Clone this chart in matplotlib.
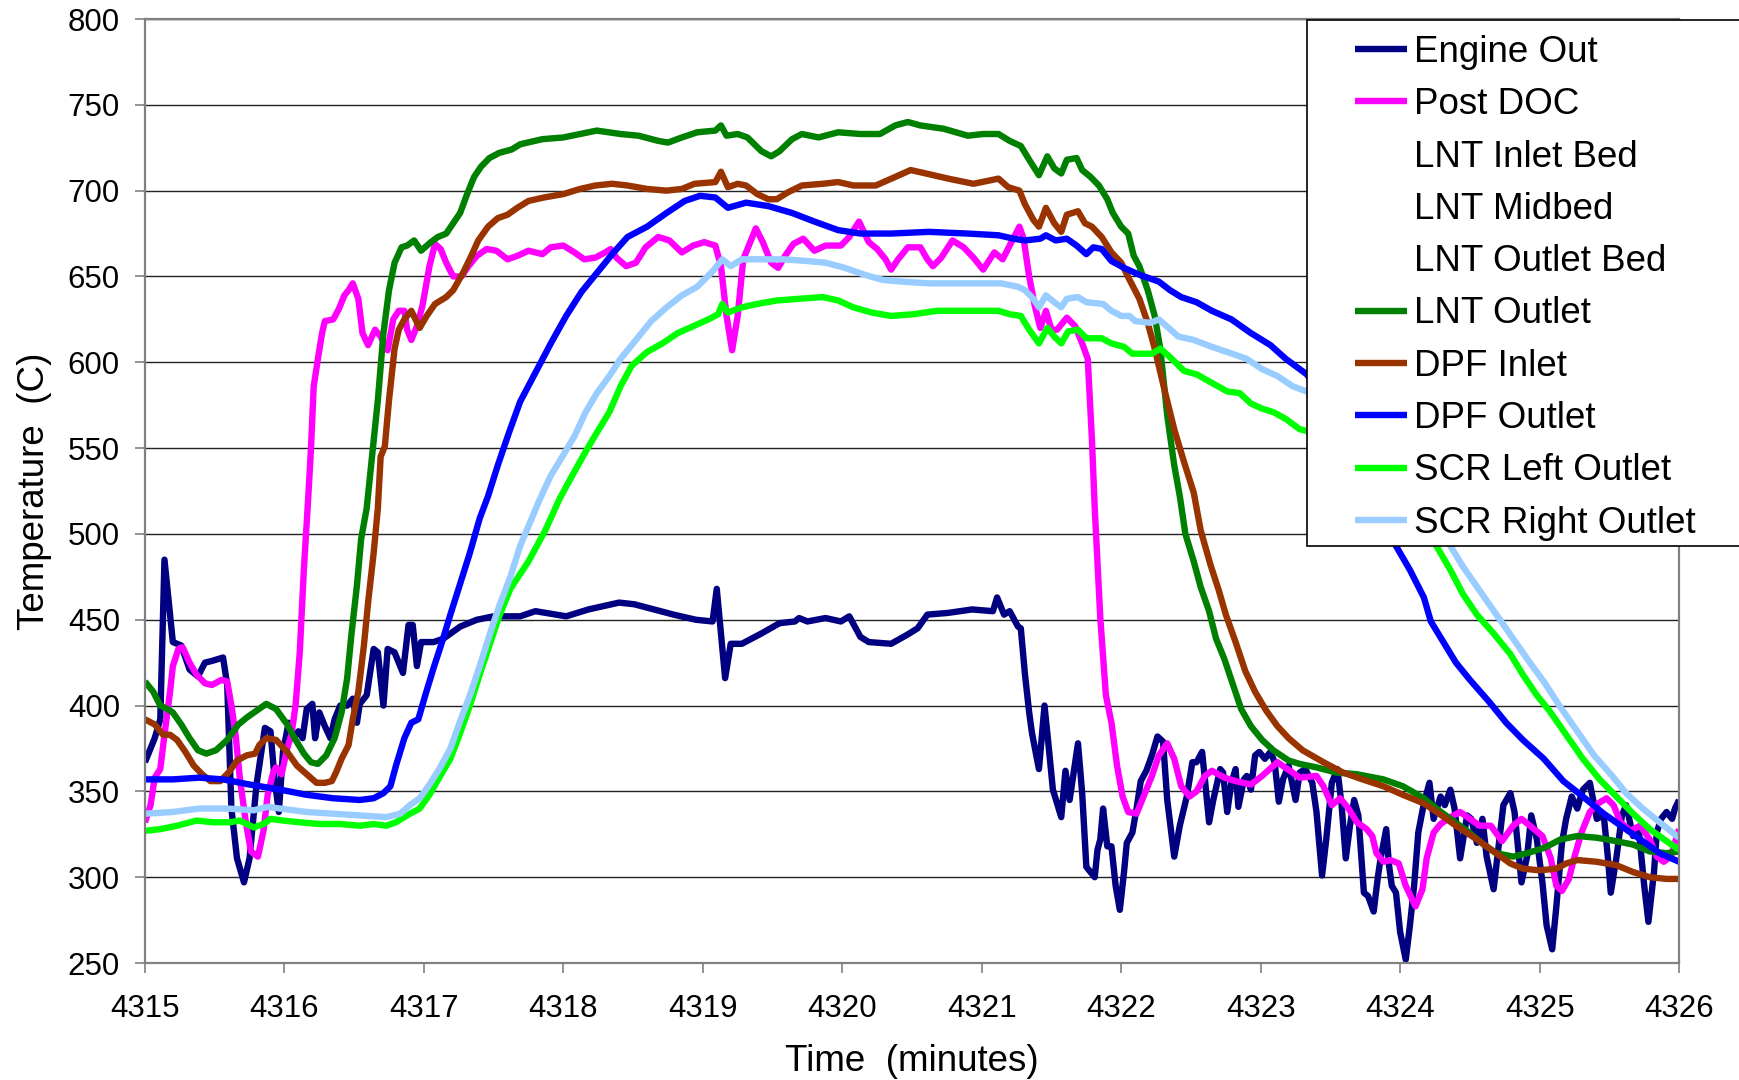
import matplotlib
matplotlib.use("Agg")
import matplotlib.pyplot as plt
from matplotlib.patches import Rectangle

plt.rcParams['font.family'] = ['Liberation Sans', 'DejaVu Sans']

# ---- data (time in minutes, temperature in C) ----
eng_t = [4315.00, 4315.07, 4315.11, 4315.14, 4315.18, 4315.20, 4315.26, 4315.32, 4315.38, 4315.43,
         4315.48, 4315.56, 4315.59, 4315.62, 4315.66, 4315.71, 4315.75, 4315.80, 4315.86, 4315.90,
         4315.93, 4315.96, 4315.99, 4316.03, 4316.06, 4316.10, 4316.13, 4316.16, 4316.20, 4316.22,
         4316.25, 4316.29, 4316.33, 4316.36, 4316.40, 4316.45, 4316.49, 4316.52, 4316.54, 4316.59,
         4316.64, 4316.67, 4316.71, 4316.74, 4316.79, 4316.85, 4316.89, 4316.92, 4316.95, 4316.98,
         4317.07, 4317.14, 4317.26, 4317.38, 4317.50, 4317.69, 4317.80, 4318.02, 4318.18, 4318.40,
         4318.51, 4318.79, 4318.95, 4319.07, 4319.10, 4319.16, 4319.20, 4319.28, 4319.42, 4319.55,
         4319.66, 4319.69, 4319.75, 4319.88, 4319.99, 4320.05, 4320.13, 4320.19, 4320.35, 4320.46,
         4320.54, 4320.61, 4320.76, 4320.93, 4321.08, 4321.11, 4321.16, 4321.20, 4321.26, 4321.28,
         4321.31, 4321.34, 4321.36, 4321.41, 4321.45, 4321.48, 4321.51, 4321.57, 4321.60, 4321.63,
         4321.69, 4321.72, 4321.75, 4321.81, 4321.83, 4321.85, 4321.87, 4321.90, 4321.93, 4321.96,
         4321.99, 4322.02, 4322.04, 4322.08, 4322.11, 4322.14, 4322.18, 4322.22, 4322.26, 4322.30,
         4322.33, 4322.38, 4322.42, 4322.47, 4322.51, 4322.54, 4322.58, 4322.60, 4322.63, 4322.66,
         4322.71, 4322.73, 4322.76, 4322.79, 4322.82, 4322.84, 4322.88, 4322.90, 4322.93, 4322.96,
         4322.99, 4323.03, 4323.07, 4323.10, 4323.13, 4323.16, 4323.20, 4323.25, 4323.28, 4323.32,
         4323.37, 4323.40, 4323.44, 4323.47, 4323.51, 4323.55, 4323.58, 4323.61, 4323.64, 4323.67,
         4323.70, 4323.74, 4323.77, 4323.81, 4323.84, 4323.86, 4323.90, 4323.92, 4323.94, 4323.97,
         4324.00, 4324.04, 4324.07, 4324.10, 4324.13, 4324.17, 4324.21, 4324.24, 4324.29, 4324.32,
         4324.36, 4324.39, 4324.43, 4324.48, 4324.51, 4324.55, 4324.59, 4324.62, 4324.67, 4324.70,
         4324.74, 4324.79, 4324.82, 4324.87, 4324.91, 4324.94, 4324.98, 4325.02, 4325.05, 4325.09,
         4325.12, 4325.16, 4325.19, 4325.23, 4325.27, 4325.31, 4325.36, 4325.41, 4325.46, 4325.49,
         4325.51, 4325.55, 4325.59, 4325.62, 4325.67, 4325.71, 4325.75, 4325.78, 4325.82, 4325.84,
         4325.87, 4325.91, 4325.95, 4325.97, 4326.00]
eng_T = [367, 381, 392, 485, 453, 437, 435, 421, 417, 425,
         426, 428, 412, 340, 311, 297, 311, 354, 387, 385,
         357, 338, 373, 390, 381, 385, 381, 398, 401, 381,
         396, 388, 381, 392, 400, 400, 404, 390, 401, 406,
         433, 431, 400, 433, 431, 419, 447, 447, 423, 437,
         437, 439, 446, 450, 452, 452, 455, 452, 456, 460,
         459, 453, 450, 449, 468, 416, 436, 436, 442, 448,
         449, 451, 449, 451, 449, 452, 440, 437, 436, 441,
         445, 453, 454, 456, 455, 463, 453, 455, 446, 445,
         418, 396, 384, 363, 400, 376, 351, 335, 362, 345,
         378, 349, 306, 300, 316, 322, 340, 318, 318, 295,
         281, 303, 320, 326, 340, 356, 362, 371, 382, 379,
         345, 312, 330, 347, 367, 367, 373, 357, 332, 345,
         363, 361, 338, 355, 363, 341, 357, 359, 351, 371,
         373, 369, 373, 367, 344, 357, 365, 345, 361, 363,
         355, 338, 301, 322, 355, 363, 342, 311, 330, 345,
         336, 291, 289, 280, 300, 311, 328, 307, 295, 291,
         268, 252, 272, 295, 326, 343, 355, 334, 347, 342,
         351, 340, 311, 336, 334, 320, 334, 312, 293, 314,
         342, 349, 338, 297, 312, 336, 322, 297, 272, 258,
         283, 320, 334, 347, 340, 351, 355, 334, 336, 311,
         291, 311, 336, 342, 324, 328, 295, 274, 303, 326,
         334, 338, 334, 340, 345]

doc_t = [4315.00, 4315.04, 4315.07, 4315.11, 4315.14, 4315.18, 4315.20, 4315.24, 4315.27, 4315.32,
         4315.37, 4315.43, 4315.48, 4315.55, 4315.59, 4315.62, 4315.65, 4315.68, 4315.72, 4315.76,
         4315.81, 4315.85, 4315.88, 4315.92, 4315.94, 4315.98, 4316.02, 4316.05, 4316.08, 4316.11,
         4316.14, 4316.17, 4316.19, 4316.21, 4316.24, 4316.27, 4316.29, 4316.35, 4316.39, 4316.43,
         4316.46, 4316.49, 4316.53, 4316.56, 4316.60, 4316.65, 4316.69, 4316.74, 4316.78, 4316.82,
         4316.86, 4316.88, 4316.91, 4316.95, 4316.99, 4317.04, 4317.08, 4317.12, 4317.16, 4317.21,
         4317.27, 4317.32, 4317.38, 4317.45, 4317.52, 4317.60, 4317.67, 4317.75, 4317.85, 4317.91,
         4318.00, 4318.08, 4318.15, 4318.23, 4318.30, 4318.34, 4318.38, 4318.45, 4318.52, 4318.59,
         4318.68, 4318.76, 4318.85, 4318.93, 4319.01, 4319.09, 4319.13, 4319.17, 4319.21, 4319.25,
         4319.29, 4319.38, 4319.43, 4319.49, 4319.54, 4319.59, 4319.65, 4319.72, 4319.80, 4319.88,
         4319.99, 4320.05, 4320.12, 4320.19, 4320.25, 4320.31, 4320.35, 4320.40, 4320.47, 4320.56,
         4320.61, 4320.65, 4320.71, 4320.79, 4320.87, 4320.94, 4321.01, 4321.09, 4321.15, 4321.20,
         4321.27, 4321.30, 4321.34, 4321.38, 4321.42, 4321.46, 4321.50, 4321.54, 4321.61, 4321.67,
         4321.72, 4321.76, 4321.79, 4321.81, 4321.85, 4321.89, 4321.93, 4321.97, 4322.01, 4322.05,
         4322.11, 4322.16, 4322.22, 4322.27, 4322.33, 4322.38, 4322.43, 4322.49, 4322.54, 4322.60,
         4322.65, 4322.74, 4322.82, 4322.93, 4323.01, 4323.12, 4323.21, 4323.28, 4323.40, 4323.45,
         4323.51, 4323.57, 4323.63, 4323.69, 4323.76, 4323.80, 4323.83, 4323.88, 4323.93, 4323.99,
         4324.04, 4324.11, 4324.16, 4324.19, 4324.24, 4324.29, 4324.36, 4324.43, 4324.50, 4324.57,
         4324.65, 4324.73, 4324.81, 4324.87, 4324.93, 4325.02, 4325.08, 4325.12, 4325.16, 4325.21,
         4325.25, 4325.30, 4325.36, 4325.42, 4325.48, 4325.53, 4325.58, 4325.65, 4325.72, 4325.79,
         4325.84, 4325.89, 4325.94, 4326.00]
doc_T = [332, 342, 358, 363, 383, 408, 423, 433, 434, 425,
         418, 413, 412, 415, 414, 400, 383, 358, 334, 315,
         312, 327, 348, 361, 364, 360, 375, 383, 400, 431,
         480, 520, 549, 586, 602, 617, 624, 625, 631, 639,
         642, 646, 637, 617, 610, 619, 615, 607, 625, 630,
         630, 619, 613, 621, 633, 656, 669, 666, 658, 650,
         650, 656, 662, 666, 665, 660, 662, 665, 663, 667,
         668, 664, 660, 661, 664, 666, 661, 656, 658, 667,
         673, 671, 664, 668, 670, 668, 656, 627, 607, 627,
         660, 678, 670, 658, 655, 662, 669, 672, 665, 668,
         668, 673, 682, 670, 666, 660, 654, 660, 667, 667,
         660, 656, 661, 671, 667, 661, 654, 664, 660, 668,
         679, 672, 650, 633, 620, 630, 619, 619, 626, 621,
         611, 602, 555, 515, 451, 406, 390, 365, 347, 338,
         337, 347, 359, 371, 378, 369, 353, 347, 350, 359,
         362, 358, 356, 354, 359, 367, 362, 358, 359, 353,
         342, 346, 340, 332, 328, 324, 314, 309, 310, 308,
         295, 283, 293, 311, 326, 331, 335, 338, 334, 330,
         330, 321, 330, 334, 330, 324, 311, 295, 292, 299,
         312, 326, 338, 343, 346, 342, 332, 327, 330, 322,
         312, 309, 312, 328]

lnt_t = [4315.00, 4315.06, 4315.11, 4315.16, 4315.20, 4315.26, 4315.32, 4315.38, 4315.44, 4315.51,
         4315.59, 4315.67, 4315.73, 4315.80, 4315.87, 4315.94, 4316.02, 4316.08, 4316.14, 4316.19,
         4316.24, 4316.30, 4316.36, 4316.41, 4316.45, 4316.48, 4316.52, 4316.55, 4316.59, 4316.67,
         4316.71, 4316.75, 4316.79, 4316.84, 4316.88, 4316.93, 4316.98, 4317.05, 4317.10, 4317.16,
         4317.21, 4317.26, 4317.31, 4317.36, 4317.41, 4317.47, 4317.54, 4317.63, 4317.69, 4317.85,
         4318.00, 4318.12, 4318.24, 4318.41, 4318.54, 4318.68, 4318.75, 4318.85, 4318.96, 4319.09,
         4319.13, 4319.17, 4319.25, 4319.32, 4319.42, 4319.49, 4319.55, 4319.64, 4319.71, 4319.83,
         4319.97, 4320.13, 4320.27, 4320.38, 4320.47, 4320.56, 4320.73, 4320.90, 4321.01, 4321.12,
         4321.20, 4321.28, 4321.34, 4321.41, 4321.47, 4321.52, 4321.57, 4321.61, 4321.68, 4321.72,
         4321.78, 4321.84, 4321.90, 4321.94, 4322.00, 4322.05, 4322.09, 4322.13, 4322.19, 4322.24,
         4322.28, 4322.33, 4322.38, 4322.42, 4322.46, 4322.52, 4322.57, 4322.63, 4322.68, 4322.74,
         4322.81, 4322.86, 4322.93, 4323.01, 4323.09, 4323.20, 4323.28, 4323.40, 4323.54, 4323.69,
         4323.88, 4324.02, 4324.17, 4324.26, 4324.36, 4324.48, 4324.60, 4324.69, 4324.81, 4324.91,
         4325.03, 4325.15, 4325.27, 4325.41, 4325.55, 4325.67, 4325.79, 4325.91, 4326.00]
lnt_T = [414, 408, 400, 398, 396, 389, 381, 374, 372, 374,
         380, 389, 393, 397, 401, 398, 389, 380, 372, 367,
         366, 371, 381, 396, 416, 441, 470, 497, 515, 578,
         617, 642, 658, 667, 668, 671, 665, 670, 673, 675,
         681, 687, 698, 708, 714, 719, 722, 724, 727, 730,
         731, 733, 735, 733, 732, 729, 728, 731, 734, 735,
         738, 732, 733, 731, 723, 720, 723, 730, 733, 731,
         734, 733, 733, 738, 740, 738, 736, 732, 733, 733,
         729, 726, 718, 709, 720, 713, 710, 718, 719, 712,
         708, 703, 695, 687, 679, 675, 662, 656, 642, 627,
         608, 569, 540, 522, 500, 484, 469, 455, 439, 427,
         410, 398, 388, 380, 374, 368, 366, 364, 361, 360,
         357, 353, 346, 340, 334, 327, 319, 314, 312, 314,
         317, 322, 324, 323, 321, 319, 315, 314, 315]

dpfi_t = [4315.00, 4315.07, 4315.13, 4315.18, 4315.23, 4315.29, 4315.35, 4315.41, 4315.47, 4315.54,
          4315.60, 4315.66, 4315.73, 4315.79, 4315.82, 4315.87, 4315.94, 4316.02, 4316.09, 4316.16,
          4316.23, 4316.29, 4316.34, 4316.37, 4316.41, 4316.46, 4316.49, 4316.53, 4316.57, 4316.60,
          4316.64, 4316.67, 4316.69, 4316.72, 4316.75, 4316.79, 4316.82, 4316.86, 4316.91, 4316.97,
          4317.02, 4317.08, 4317.16, 4317.21, 4317.28, 4317.34, 4317.39, 4317.46, 4317.53, 4317.60,
          4317.67, 4317.75, 4317.86, 4318.00, 4318.12, 4318.23, 4318.35, 4318.46, 4318.60, 4318.74,
          4318.85, 4318.94, 4319.09, 4319.13, 4319.18, 4319.25, 4319.31, 4319.39, 4319.47, 4319.53,
          4319.61, 4319.71, 4319.86, 4319.97, 4320.08, 4320.24, 4320.38, 4320.49, 4320.60, 4320.76,
          4320.94, 4321.12, 4321.19, 4321.27, 4321.31, 4321.37, 4321.41, 4321.46, 4321.52, 4321.57,
          4321.61, 4321.69, 4321.74, 4321.79, 4321.86, 4321.93, 4322.00, 4322.06, 4322.13, 4322.19,
          4322.24, 4322.31, 4322.38, 4322.45, 4322.52, 4322.57, 4322.64, 4322.70, 4322.75, 4322.82,
          4322.89, 4322.96, 4323.04, 4323.12, 4323.20, 4323.30, 4323.45, 4323.59, 4323.73, 4323.88,
          4324.02, 4324.17, 4324.28, 4324.40, 4324.55, 4324.67, 4324.79, 4324.88, 4325.00, 4325.12,
          4325.19, 4325.27, 4325.41, 4325.55, 4325.67, 4325.79, 4325.91, 4326.00]
dpfi_T = [392, 389, 383, 383, 380, 373, 365, 360, 356, 356,
          361, 368, 371, 372, 377, 381, 380, 373, 365, 360,
          355, 355, 356, 361, 369, 377, 392, 408, 435, 460,
          489, 515, 545, 551, 578, 608, 619, 625, 630, 620,
          627, 634, 638, 642, 652, 662, 671, 679, 684, 686,
          690, 694, 696, 698, 701, 703, 704, 703, 701, 700,
          701, 704, 705, 711, 702, 704, 703, 698, 695, 695,
          699, 703, 704, 705, 703, 703, 708, 712, 710, 707,
          704, 707, 702, 700, 692, 683, 679, 690, 681, 676,
          686, 688, 681, 679, 673, 664, 658, 648, 637, 623,
          608, 584, 561, 542, 524, 502, 482, 467, 453, 437,
          420, 408, 397, 388, 381, 374, 367, 361, 357, 353,
          348, 343, 337, 330, 322, 315, 308, 305, 304, 305,
          308, 310, 309, 307, 303, 300, 299, 299]

dpfo_t = [4315.00, 4315.20, 4315.39, 4315.56, 4315.75, 4315.97, 4316.16, 4316.35, 4316.54, 4316.64,
          4316.71, 4316.76, 4316.80, 4316.86, 4316.91, 4316.96, 4317.01, 4317.07, 4317.13, 4317.19,
          4317.26, 4317.33, 4317.40, 4317.46, 4317.53, 4317.61, 4317.69, 4317.80, 4317.91, 4318.02,
          4318.13, 4318.24, 4318.35, 4318.46, 4318.60, 4318.74, 4318.87, 4318.98, 4319.09, 4319.18,
          4319.31, 4319.47, 4319.64, 4319.80, 4319.97, 4320.13, 4320.35, 4320.62, 4320.90, 4321.12,
          4321.23, 4321.31, 4321.42, 4321.46, 4321.53, 4321.61, 4321.68, 4321.75, 4321.80, 4321.86,
          4321.93, 4322.02, 4322.13, 4322.27, 4322.35, 4322.43, 4322.54, 4322.65, 4322.79, 4322.93,
          4323.07, 4323.18, 4323.28, 4323.33, 4323.50, 4323.70, 4323.85, 4323.97, 4324.07, 4324.17,
          4324.22, 4324.31, 4324.40, 4324.50, 4324.64, 4324.76, 4324.88, 4325.03, 4325.17, 4325.31,
          4325.46, 4325.60, 4325.74, 4325.86, 4326.00]
dpfo_T = [357, 357, 358, 357, 354, 351, 348, 346, 345, 346,
          349, 353, 365, 381, 390, 392, 406, 422, 437, 453,
          471, 489, 509, 522, 540, 559, 577, 594, 611, 627,
          641, 652, 663, 673, 679, 687, 694, 697, 696, 690,
          693, 691, 687, 682, 677, 675, 675, 676, 675, 674,
          672, 671, 672, 674, 671, 672, 668, 663, 667, 666,
          659, 655, 651, 647, 642, 638, 635, 630, 625, 617,
          610, 602, 596, 593, 575, 545, 515, 493, 479, 463,
          449, 437, 425, 415, 402, 390, 380, 369, 356, 347,
          337, 329, 321, 314, 309]

scrl_t = [4315.00, 4315.11, 4315.23, 4315.37, 4315.49, 4315.61, 4315.68, 4315.78, 4315.85, 4315.90,
          4315.99, 4316.11, 4316.25, 4316.40, 4316.54, 4316.64, 4316.73, 4316.80, 4316.90, 4316.97,
          4317.04, 4317.11, 4317.19, 4317.26, 4317.33, 4317.40, 4317.47, 4317.54, 4317.62, 4317.75,
          4317.87, 4317.97, 4318.05, 4318.16, 4318.24, 4318.33, 4318.41, 4318.49, 4318.60, 4318.71,
          4318.82, 4318.93, 4319.04, 4319.11, 4319.14, 4319.18, 4319.28, 4319.39, 4319.53, 4319.69,
          4319.86, 4319.97, 4320.08, 4320.21, 4320.35, 4320.51, 4320.68, 4320.90, 4321.12, 4321.20,
          4321.28, 4321.34, 4321.41, 4321.47, 4321.52, 4321.57, 4321.62, 4321.69, 4321.75, 4321.86,
          4321.93, 4322.02, 4322.08, 4322.22, 4322.28, 4322.35, 4322.45, 4322.54, 4322.65, 4322.76,
          4322.85, 4322.93, 4323.01, 4323.09, 4323.18, 4323.28, 4323.33, 4323.60, 4323.90, 4324.10,
          4324.26, 4324.36, 4324.45, 4324.55, 4324.67, 4324.79, 4324.88, 4324.98, 4325.07, 4325.19,
          4325.31, 4325.43, 4325.55, 4325.67, 4325.79, 4325.91, 4326.00]
scrl_T = [327, 328, 330, 333, 332, 332, 333, 329, 331, 334,
          333, 332, 331, 331, 330, 331, 330, 332, 337, 340,
          348, 358, 369, 384, 400, 418, 435, 452, 468, 484,
          502, 520, 532, 548, 559, 571, 586, 598, 606, 611,
          617, 621, 625, 628, 634, 629, 632, 634, 636, 637,
          638, 636, 632, 629, 627, 628, 630, 630, 630, 628,
          627, 619, 611, 620, 615, 611, 618, 619, 614, 614,
          611, 609, 605, 605, 608, 603, 595, 593, 588, 583,
          582, 576, 573, 571, 567, 561, 560, 545, 525, 508,
          493, 479, 465, 453, 442, 430, 418, 406, 397, 383,
          369, 357, 347, 337, 328, 321, 316]

scrr_t = [4315.00, 4315.20, 4315.39, 4315.59, 4315.78, 4315.88, 4315.97, 4316.16, 4316.35, 4316.54,
          4316.73, 4316.83, 4316.90, 4316.97, 4317.04, 4317.11, 4317.19, 4317.26, 4317.33, 4317.40,
          4317.47, 4317.54, 4317.62, 4317.69, 4317.83, 4317.91, 4318.00, 4318.08, 4318.16, 4318.24,
          4318.33, 4318.41, 4318.52, 4318.63, 4318.74, 4318.85, 4318.96, 4319.07, 4319.14, 4319.20,
          4319.28, 4319.42, 4319.58, 4319.75, 4319.88, 4320.02, 4320.16, 4320.29, 4320.43, 4320.62,
          4320.84, 4321.06, 4321.14, 4321.26, 4321.31, 4321.37, 4321.41, 4321.46, 4321.52, 4321.57,
          4321.61, 4321.69, 4321.75, 4321.87, 4321.93, 4322.00, 4322.06, 4322.10, 4322.21, 4322.27,
          4322.34, 4322.41, 4322.52, 4322.65, 4322.76, 4322.90, 4323.01, 4323.12, 4323.23, 4323.33,
          4323.60, 4323.90, 4324.15, 4324.36, 4324.45, 4324.57, 4324.69, 4324.81, 4324.93, 4325.03,
          4325.15, 4325.27, 4325.39, 4325.51, 4325.62, 4325.74, 4325.86, 4326.00]
scrr_T = [337, 338, 340, 340, 339, 341, 340, 338, 337, 336,
          335, 337, 342, 346, 354, 363, 375, 391, 406, 423,
          441, 458, 475, 493, 520, 534, 546, 557, 571, 582,
          592, 602, 613, 624, 632, 639, 644, 653, 660, 656,
          660, 660, 660, 659, 658, 655, 651, 648, 647, 646,
          646, 646, 646, 644, 642, 637, 632, 639, 635, 632,
          637, 638, 635, 634, 630, 627, 627, 624, 623, 625,
          620, 615, 613, 609, 606, 602, 596, 592, 586, 583,
          567, 545, 518, 493, 481, 467, 453, 439, 425, 414,
          399, 385, 371, 360, 349, 340, 332, 323]

labels = ['Engine Out', 'Post DOC', 'LNT Inlet Bed', 'LNT Midbed', 'LNT Outlet Bed',
          'LNT Outlet', 'DPF Inlet', 'DPF Outlet', 'SCR Left Outlet', 'SCR Right Outlet']
x_ticks = [4315, 4316, 4317, 4318, 4319, 4320, 4321, 4322, 4323, 4324, 4325, 4326]
y_ticks = [250, 300, 350, 400, 450, 500, 550, 600, 650, 700, 750, 800]

# ---- figure ----
fig = plt.figure(figsize=(17.4, 10.8), dpi=100)
ax = fig.add_axes([0.0833, 0.1083, 0.8817, 0.8741])

series = [
    (eng_t, eng_T, '#000080'),
    (doc_t, doc_T, '#FF00FF'),
    ([], [], None),
    ([], [], None),
    ([], [], None),
    (lnt_t, lnt_T, '#008000'),
    (dpfi_t, dpfi_T, '#993300'),
    (dpfo_t, dpfo_T, '#0000FF'),
    (scrl_t, scrl_T, '#00FF00'),
    (scrr_t, scrr_T, '#99CCFF'),
]
handles = []
for (t, T, c), lab in zip(series, labels):
    if c is None:
        h, = ax.plot(t, T, linestyle='None', label=lab)
    else:
        h, = ax.plot(t, T, color=c, lw=4.6, label=lab,
                     solid_joinstyle='round', solid_capstyle='butt')
    handles.append(h)

ax.set_xlim(4315, 4326)
ax.set_ylim(250, 800)
ax.set_xticks(x_ticks)
ax.set_xticklabels([str(v) for v in x_ticks])
ax.set_yticks(y_ticks)
ax.set_yticklabels([str(v) for v in y_ticks])
ax.tick_params(axis='both', direction='out', length=7, width=1.2, color='#808080',
               labelsize=22.5)
ax.tick_params(axis='y', pad=11)
ax.tick_params(axis='x', pad=15.5)

ax.yaxis.grid(True, color='#222222', lw=1.0)
ax.set_axisbelow(True)
for s in ['left', 'bottom', 'top', 'right']:
    ax.spines[s].set_color('#808080')
    ax.spines[s].set_linewidth(1.6)

ax.set_xlabel('Time  (minutes)', fontsize=26.5, labelpad=14)
ax.set_ylabel('Temperature  (C)', fontsize=26.5, labelpad=11)

# legend box sticking out past the right edge
box = Rectangle((1307 / 1740, 1 - 546 / 1080), 0.5, (546 - 20) / 1080,
                transform=fig.transFigure, facecolor='white', edgecolor='black',
                lw=1.2, zorder=8, clip_on=False)
ax.add_artist(box)
leg = ax.legend(handles=handles, loc='upper left', bbox_to_anchor=(1355 / 1740, 1 - 35 / 1080),
                bbox_transform=fig.transFigure, frameon=False, fontsize=26.5,
                borderpad=0, borderaxespad=0, handlelength=1.4, handletextpad=0.2,
                labelspacing=0.47)
leg.set_zorder(9)

fig.savefig('out.png', dpi=100)
